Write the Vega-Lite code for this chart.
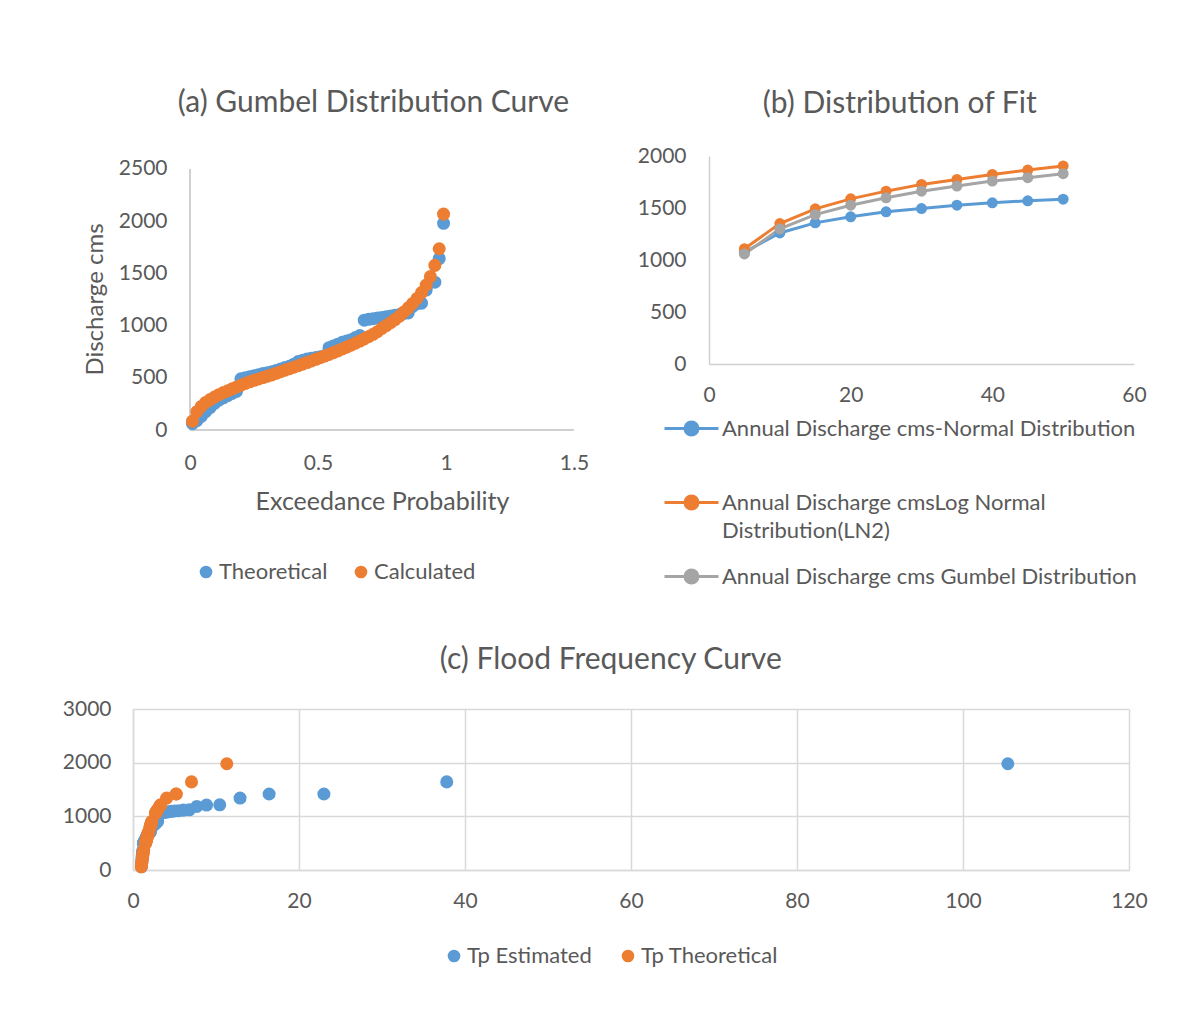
{
  "$schema": "https://vega.github.io/schema/vega-lite/v6.json",
  "padding": {"left": 62, "top": 88, "right": 5, "bottom": 5},
  "config": {
    "font": "Lato",
    "view": {"stroke": null},
    "style": {"guide-label": {"lineHeight": 28}},
    "axis": {"labelColor": "#595959", "titleColor": "#595959", "labelFontSize": 21, "titleFontSize": 24, "titleFontWeight": "normal", "domainColor": "#d0d0d0", "domainWidth": 1.5, "ticks": false, "grid": false, "labelFont": "Lato", "titleFont": "Lato"},
    "title": {"fontSize": 30, "color": "#595959", "fontWeight": "normal", "font": "Lato"},
    "legend": {"labelFontSize": 22, "labelColor": "#595959", "labelFont": "Lato"}
  },
  "datasets": {
    "obs": [
      {"F": 0.9905, "Q": 1980, "TpE": 105.4, "TpT": 11.3, "Qg": 2068},
      {"F": 0.9735, "Q": 1642, "TpE": 37.8, "TpT": 7.05, "Qg": 1736},
      {"F": 0.9565, "Q": 1416, "TpE": 23.0, "TpT": 5.2, "Qg": 1577},
      {"F": 0.939, "Q": 1416, "TpE": 16.4, "TpT": 5.2, "Qg": 1469},
      {"F": 0.9225, "Q": 1340, "TpE": 12.9, "TpT": 4.05, "Qg": 1389},
      {"F": 0.9043, "Q": 1215, "TpE": 10.45, "TpT": 3.36, "Qg": 1316},
      {"F": 0.8871, "Q": 1210, "TpE": 8.86, "TpT": 3.3, "Qg": 1260},
      {"F": 0.8699, "Q": 1185, "TpE": 7.69, "TpT": 3.19, "Qg": 1212},
      {"F": 0.8527, "Q": 1122, "TpE": 6.79, "TpT": 2.95, "Qg": 1170},
      {"F": 0.8355, "Q": 1116, "TpE": 6.08, "TpT": 2.93, "Qg": 1131},
      {"F": 0.8183, "Q": 1105, "TpE": 5.5, "TpT": 2.89, "Qg": 1090},
      {"F": 0.8011, "Q": 1100, "TpE": 5.03, "TpT": 2.87, "Qg": 1058},
      {"F": 0.7839, "Q": 1092, "TpE": 4.63, "TpT": 2.85, "Qg": 1028},
      {"F": 0.7667, "Q": 1085, "TpE": 4.29, "TpT": 2.82, "Qg": 1000},
      {"F": 0.7495, "Q": 1078, "TpE": 3.99, "TpT": 2.79, "Qg": 974},
      {"F": 0.7323, "Q": 1072, "TpE": 3.74, "TpT": 2.77, "Qg": 942},
      {"F": 0.7151, "Q": 1066, "TpE": 3.51, "TpT": 2.75, "Qg": 917},
      {"F": 0.6979, "Q": 1060, "TpE": 3.31, "TpT": 2.73, "Qg": 895},
      {"F": 0.6807, "Q": 1052, "TpE": 3.13, "TpT": 2.7, "Qg": 873},
      {"F": 0.6635, "Q": 905, "TpE": 2.97, "TpT": 2.26, "Qg": 852},
      {"F": 0.6462, "Q": 885, "TpE": 2.83, "TpT": 2.22, "Qg": 832},
      {"F": 0.629, "Q": 865, "TpE": 2.7, "TpT": 2.18, "Qg": 812},
      {"F": 0.6118, "Q": 852, "TpE": 2.58, "TpT": 2.16, "Qg": 794},
      {"F": 0.5946, "Q": 840, "TpE": 2.47, "TpT": 2.13, "Qg": 776},
      {"F": 0.5774, "Q": 822, "TpE": 2.37, "TpT": 2.1, "Qg": 758},
      {"F": 0.5602, "Q": 805, "TpE": 2.27, "TpT": 2.06, "Qg": 741},
      {"F": 0.543, "Q": 788, "TpE": 2.19, "TpT": 2.03, "Qg": 724},
      {"F": 0.5258, "Q": 712, "TpE": 2.11, "TpT": 1.89, "Qg": 708},
      {"F": 0.5086, "Q": 702, "TpE": 2.04, "TpT": 1.87, "Qg": 692},
      {"F": 0.4914, "Q": 695, "TpE": 1.97, "TpT": 1.86, "Qg": 677},
      {"F": 0.4742, "Q": 688, "TpE": 1.9, "TpT": 1.84, "Qg": 661},
      {"F": 0.457, "Q": 680, "TpE": 1.84, "TpT": 1.83, "Qg": 646},
      {"F": 0.4398, "Q": 668, "TpE": 1.79, "TpT": 1.8, "Qg": 631},
      {"F": 0.4226, "Q": 655, "TpE": 1.73, "TpT": 1.78, "Qg": 616},
      {"F": 0.4054, "Q": 630, "TpE": 1.68, "TpT": 1.74, "Qg": 601},
      {"F": 0.3882, "Q": 610, "TpE": 1.63, "TpT": 1.7, "Qg": 587},
      {"F": 0.371, "Q": 598, "TpE": 1.59, "TpT": 1.68, "Qg": 573},
      {"F": 0.3538, "Q": 585, "TpE": 1.55, "TpT": 1.65, "Qg": 558},
      {"F": 0.3365, "Q": 570, "TpE": 1.51, "TpT": 1.63, "Qg": 543},
      {"F": 0.3193, "Q": 558, "TpE": 1.47, "TpT": 1.61, "Qg": 528},
      {"F": 0.3021, "Q": 548, "TpE": 1.43, "TpT": 1.59, "Qg": 515},
      {"F": 0.2849, "Q": 540, "TpE": 1.4, "TpT": 1.58, "Qg": 502},
      {"F": 0.2677, "Q": 530, "TpE": 1.37, "TpT": 1.56, "Qg": 489},
      {"F": 0.2505, "Q": 520, "TpE": 1.33, "TpT": 1.54, "Qg": 476},
      {"F": 0.2333, "Q": 510, "TpE": 1.3, "TpT": 1.53, "Qg": 462},
      {"F": 0.2161, "Q": 500, "TpE": 1.28, "TpT": 1.51, "Qg": 446},
      {"F": 0.1989, "Q": 490, "TpE": 1.25, "TpT": 1.49, "Qg": 429},
      {"F": 0.1817, "Q": 370, "TpE": 1.22, "TpT": 1.29, "Qg": 412},
      {"F": 0.1645, "Q": 350, "TpE": 1.2, "TpT": 1.25, "Qg": 394},
      {"F": 0.1473, "Q": 330, "TpE": 1.17, "TpT": 1.23, "Qg": 375},
      {"F": 0.1301, "Q": 308, "TpE": 1.15, "TpT": 1.21, "Qg": 358},
      {"F": 0.1129, "Q": 285, "TpE": 1.13, "TpT": 1.19, "Qg": 338},
      {"F": 0.0957, "Q": 255, "TpE": 1.11, "TpT": 1.17, "Qg": 316},
      {"F": 0.0785, "Q": 215, "TpE": 1.09, "TpT": 1.13, "Qg": 292},
      {"F": 0.0613, "Q": 175, "TpE": 1.07, "TpT": 1.1, "Qg": 264},
      {"F": 0.0441, "Q": 130, "TpE": 1.05, "TpT": 1.06, "Qg": 226},
      {"F": 0.0268, "Q": 90, "TpE": 1.03, "TpT": 1.03, "Qg": 175},
      {"F": 0.0096, "Q": 60, "TpE": 1.01, "TpT": 1.0, "Qg": 85}
    ],
    "fit": [
      {"T": 5, "series": "Annual Discharge cms-Normal Distribution", "Q": 1075},
      {"T": 10, "series": "Annual Discharge cms-Normal Distribution", "Q": 1260},
      {"T": 15, "series": "Annual Discharge cms-Normal Distribution", "Q": 1357},
      {"T": 20, "series": "Annual Discharge cms-Normal Distribution", "Q": 1415},
      {"T": 25, "series": "Annual Discharge cms-Normal Distribution", "Q": 1463},
      {"T": 30, "series": "Annual Discharge cms-Normal Distribution", "Q": 1495},
      {"T": 35, "series": "Annual Discharge cms-Normal Distribution", "Q": 1527},
      {"T": 40, "series": "Annual Discharge cms-Normal Distribution", "Q": 1550},
      {"T": 45, "series": "Annual Discharge cms-Normal Distribution", "Q": 1569},
      {"T": 50, "series": "Annual Discharge cms-Normal Distribution", "Q": 1585},
      {"T": 5, "series": "Annual Discharge cmsLog Normal Distribution(LN2)", "Q": 1109},
      {"T": 10, "series": "Annual Discharge cmsLog Normal Distribution(LN2)", "Q": 1350},
      {"T": 15, "series": "Annual Discharge cmsLog Normal Distribution(LN2)", "Q": 1492},
      {"T": 20, "series": "Annual Discharge cmsLog Normal Distribution(LN2)", "Q": 1588},
      {"T": 25, "series": "Annual Discharge cmsLog Normal Distribution(LN2)", "Q": 1662},
      {"T": 30, "series": "Annual Discharge cmsLog Normal Distribution(LN2)", "Q": 1727},
      {"T": 35, "series": "Annual Discharge cmsLog Normal Distribution(LN2)", "Q": 1775},
      {"T": 40, "series": "Annual Discharge cmsLog Normal Distribution(LN2)", "Q": 1823},
      {"T": 45, "series": "Annual Discharge cmsLog Normal Distribution(LN2)", "Q": 1865},
      {"T": 50, "series": "Annual Discharge cmsLog Normal Distribution(LN2)", "Q": 1904},
      {"T": 5, "series": "Annual Discharge cms Gumbel Distribution", "Q": 1058},
      {"T": 10, "series": "Annual Discharge cms Gumbel Distribution", "Q": 1299},
      {"T": 15, "series": "Annual Discharge cms Gumbel Distribution", "Q": 1437},
      {"T": 20, "series": "Annual Discharge cms Gumbel Distribution", "Q": 1527},
      {"T": 25, "series": "Annual Discharge cms Gumbel Distribution", "Q": 1598},
      {"T": 30, "series": "Annual Discharge cms Gumbel Distribution", "Q": 1662},
      {"T": 35, "series": "Annual Discharge cms Gumbel Distribution", "Q": 1711},
      {"T": 40, "series": "Annual Discharge cms Gumbel Distribution", "Q": 1759},
      {"T": 45, "series": "Annual Discharge cms Gumbel Distribution", "Q": 1791},
      {"T": 50, "series": "Annual Discharge cms Gumbel Distribution", "Q": 1830}
    ]
  },
  "spacing": 29,
  "resolve": {"scale": {"color": "independent", "x": "independent", "y": "independent"}, "legend": {"color": "independent"}},
  "vconcat": [
    {
      "spacing": 48,
      "resolve": {"scale": {"color": "independent", "x": "independent", "y": "independent"}, "legend": {"color": "independent"}},
      "hconcat": [
        {
          "title": {"text": "(a) Gumbel Distribution Curve", "offset": 38, "frame": "group", "dx": 20},
          "width": 441,
          "height": 274,
          "data": {"name": "obs"},
          "layer": [
            {
              "mark": {"type": "rule", "color": "#d0d0d0", "strokeWidth": 1.5},
              "encoding": {"x": {"datum": 0, "type": "quantitative"}, "y": {"datum": 0, "type": "quantitative"}, "y2": {"datum": 2500}}
            },
            {
              "mark": {"type": "rule", "color": "#d0d0d0", "strokeWidth": 1.5},
              "encoding": {"x": {"datum": 0, "type": "quantitative"}, "x2": {"datum": 1.5}, "y": {"datum": 0, "type": "quantitative"}}
            },
            {
              "mark": {"type": "circle", "size": 170, "opacity": 1},
              "encoding": {
                "x": {"field": "F", "type": "quantitative", "scale": {"domain": [-0.2227, 1.5], "nice": false, "zero": false}, "axis": {"values": [0, 0.5, 1, 1.5], "format": "~g", "domain": false, "title": "Exceedance Probability", "titleFontSize": 25, "titleX": 249, "labelPadding": 22, "titlePadding": 16, "labelFlush": false}},
                "y": {"field": "Q", "type": "quantitative", "scale": {"domain": [0, 2624.5], "nice": false}, "axis": {"values": [0, 500, 1000, 1500, 2000, 2500], "format": "d", "domain": false, "offset": -57, "title": "Discharge cms", "titleY": 143, "labelPadding": 23, "titlePadding": 11}},
                "color": {"datum": "Theoretical", "type": "nominal", "scale": {"domain": ["Theoretical", "Calculated"], "range": ["#5b9bd5", "#ed7d31"]}, "legend": {"orient": "none", "legendX": 62, "legendY": 405, "direction": "horizontal", "title": null, "symbolType": "circle", "symbolSize": 160, "columnPadding": 22, "labelOffset": 2}}
              }
            },
            {
              "mark": {"type": "circle", "size": 170, "opacity": 1},
              "encoding": {
                "x": {"field": "F", "type": "quantitative"},
                "y": {"field": "Qg", "type": "quantitative"},
                "color": {"datum": "Calculated", "type": "nominal"}
              }
            }
          ]
        },
        {
          "title": {"text": "(b) Distribution of Fit", "offset": 26, "frame": "bounds", "dx": 8},
          "width": 425,
          "height": 208,
          "data": {"name": "fit"},
          "mark": {"type": "line", "strokeWidth": 3, "point": {"size": 120, "filled": true, "opacity": 1}},
          "encoding": {
            "x": {"field": "T", "type": "quantitative", "scale": {"domain": [0, 60], "nice": false}, "axis": {"values": [0, 20, 40, 60], "title": null, "labelPadding": 20, "labelFlush": false}},
            "y": {"field": "Q", "type": "quantitative", "scale": {"domain": [0, 2000], "nice": false}, "axis": {"values": [0, 500, 1000, 1500, 2000], "format": "d", "title": null, "labelPadding": 23}},
            "color": {"field": "series", "type": "nominal", "sort": null, "scale": {"domain": ["Annual Discharge cms-Normal Distribution", "Annual Discharge cmsLog Normal Distribution(LN2)", "Annual Discharge cms Gumbel Distribution"], "range": ["#5b9bd5", "#ed7d31", "#a5a5a5"]}, "legend": {"orient": "none", "legendX": -46, "legendY": 244, "direction": "vertical", "title": null, "symbolType": "M-1,0H1M0.24,0A0.24,0.24,0,1,1,-0.24,0A0.24,0.24,0,1,1,0.24,0Z", "symbolSize": 2916, "symbolStrokeWidth": 3, "labelOffset": 2, "labelLimit": 600, "rowPadding": 6, "labelExpr": "datum.label == 'Annual Discharge cmsLog Normal Distribution(LN2)' ? ['Annual Discharge cmsLog Normal', 'Distribution(LN2)'] : [datum.label, ' ']"}}
          }
        }
      ]
    },
    {
      "title": {"text": "(c) Flood Frequency Curve", "offset": 23, "frame": "bounds", "dx": 6},
      "width": 996,
      "height": 161,
      "data": {"name": "obs"},
      "layer": [
        {
          "mark": {"type": "circle", "size": 170, "opacity": 1},
          "encoding": {
            "x": {"field": "TpE", "type": "quantitative", "scale": {"domain": [0, 120], "nice": false}, "axis": {"values": [0, 20, 40, 60, 80, 100, 120], "title": null, "grid": true, "gridColor": "#d9d9d9", "gridWidth": 1.5, "domainColor": "#d9d9d9", "labelPadding": 20, "labelFlush": false}},
            "y": {"field": "Q", "type": "quantitative", "scale": {"domain": [0, 3000], "nice": false}, "axis": {"values": [0, 1000, 2000, 3000], "format": "d", "title": null, "grid": true, "gridColor": "#d9d9d9", "gridWidth": 1.5, "domainColor": "#d9d9d9", "labelPadding": 22}},
            "color": {"datum": "Tp Estimated", "type": "nominal", "scale": {"domain": ["Tp Estimated", "Tp Theoretical"], "range": ["#5b9bd5", "#ed7d31"]}, "legend": {"orient": "none", "legendX": 310, "legendY": 236, "direction": "horizontal", "title": null, "symbolType": "circle", "symbolSize": 160, "columnPadding": 25, "labelOffset": 2}}
          }
        },
        {
          "mark": {"type": "circle", "size": 170, "opacity": 1},
          "encoding": {
            "x": {"field": "TpT", "type": "quantitative", "scale": {"domain": [0, 120], "nice": false}},
            "y": {"field": "Q", "type": "quantitative", "scale": {"domain": [0, 3000], "nice": false}},
            "color": {"datum": "Tp Theoretical", "type": "nominal"}
          }
        }
      ]
    }
  ]
}
